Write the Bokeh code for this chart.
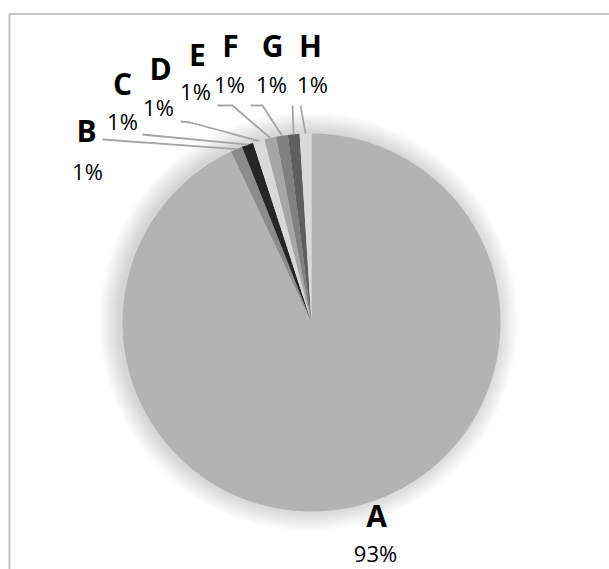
import math
from bokeh.plotting import figure
from bokeh.models import Range1d, ColumnDataSource
from bokeh.core.properties import value
from bokeh.embed import file_html
from bokeh.resources import INLINE

# ---- data ----
categories = ["A", "B", "C", "D", "E", "F", "G", "H"]
values = [93, 1, 1, 1, 1, 1, 1, 1]
colors = ["#b3b3b3", "#8c8c8c", "#262626", "#d9d9d9", "#a6a6a6", "#808080", "#5f5f5f", "#dadada"]

# ---- layout (image pixel coordinates) ----
W, H = 609, 569
def Y(yi):
    return H - yi

CX, CY, R = 311, 322, 189
letter_pos = [(376, 515), (86, 130), (122, 83), (160, 68), (197, 54), (230, 45), (272, 45), (310, 45)]
pct_pos = [(375, 552), (87, 170), (122, 120), (158, 106), (195, 90), (229, 83), (271, 83), (312, 83)]
leader_start = [None, (102, 139), (142, 134), (180, 121), (217, 105), (250, 105), (292, 105), (300, 105)]
leader_elbow = [None, (102, 139), (152, 135), (190, 122), (232, 105), (262, 105), (292, 105), (300, 105)]

p = figure(width=W, height=H, output_backend="svg", toolbar_location=None,
           x_range=Range1d(0, W), y_range=Range1d(0, H), min_border=0)
p.axis.visible = False
p.grid.visible = False
p.outline_line_color = None
p.background_fill_color = "white"
p.border_fill_color = "white"

# chart border (top and left visible)
p.line([8, W + 10], [Y(13.5), Y(13.5)], line_color="#c4c4c4", line_width=2)
p.line([9, 9], [Y(13), Y(H + 10)], line_color="#c4c4c4", line_width=2)

# soft shadow
for k in range(1, 22):
    p.circle(x=CX - 3, y=Y(CY - 1), radius=R + k, fill_color="black", fill_alpha=0.0065, line_color=None)

# wedges
total = sum(values)
starts, ends, mids = [], [], []
cum = 0.0
for v in values:
    a0 = cum / total * 2 * math.pi
    cum += v
    a1 = cum / total * 2 * math.pi
    starts.append(math.pi / 2 - a0)
    ends.append(math.pi / 2 - a1)
    mids.append((a0 + a1) / 2)

src = ColumnDataSource(dict(start=starts, end=ends, color=colors))
p.wedge(x=CX, y=Y(CY), radius=R, start_angle="start", end_angle="end", direction="clock",
        fill_color="color", line_color=None, source=src)

# leader lines
xs, ys = [], []
for i, m in enumerate(mids):
    if leader_start[i] is None:
        continue
    ex = CX + R * math.sin(m)
    ey = CY - R * math.cos(m)
    sx, sy = leader_start[i]
    bx, by = leader_elbow[i]
    xs.append([sx, bx, ex])
    ys.append([Y(sy), Y(by), Y(ey)])
p.multi_line(xs, ys, line_color="#a6a6a6", line_width=1.8)

# labels
pcts = [f"{round(v / total * 100)}%" for v in values]
lab = ColumnDataSource(dict(x=[q[0] for q in letter_pos], y=[Y(q[1]) for q in letter_pos], t=categories))
pl = ColumnDataSource(dict(x=[q[0] for q in pct_pos], y=[Y(q[1]) for q in pct_pos], t=pcts))
p.text(x="x", y="y", text="t", source=lab, text_font=value("Open Sans"), text_font_style="bold",
       text_font_size="30px", text_align="center", text_baseline="middle", text_color="black")
p.text(x="x", y="y", text="t", source=pl, text_font=value("Open Sans"),
       text_font_size="22px", text_align="center", text_baseline="middle", text_color="black")

open("out.html", "w").write(file_html(p, INLINE))
